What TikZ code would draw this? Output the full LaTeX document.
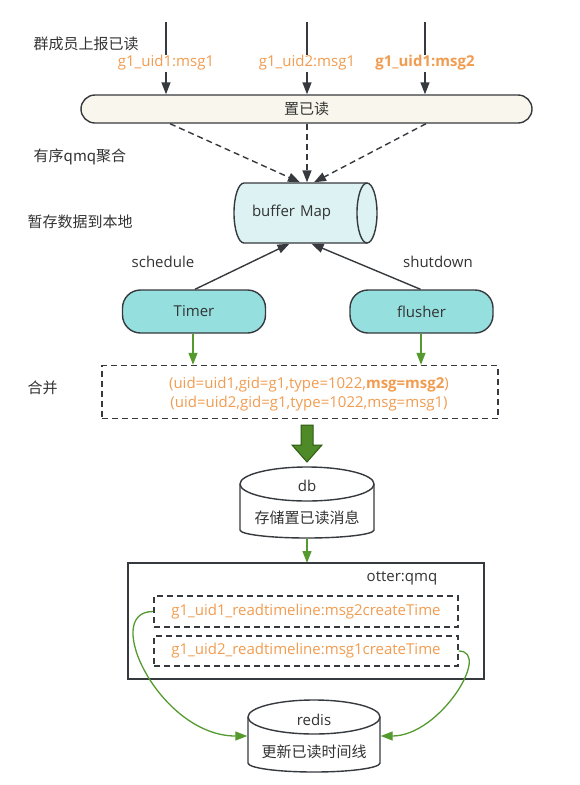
\documentclass[tikz,border=0pt]{standalone}
\usepackage{fontspec}
\setmainfont{Open Sans}
\newfontfamily\cjk{Noto Sans CJK SC}
\usetikzlibrary{arrows.meta}
\definecolor{linec}{HTML}{36393D}
\definecolor{txtc}{HTML}{333333}
\definecolor{barc}{HTML}{F9F7ED}
\definecolor{bufc}{HTML}{DDF3F3}
\definecolor{timerc}{HTML}{95DFDF}
\definecolor{orangec}{HTML}{F19C50}
\definecolor{greenc}{HTML}{559A2E}
\definecolor{bigc}{HTML}{4E8A27}
\definecolor{bigedge}{HTML}{2E5A12}
\tikzset{
  every node/.style={font=\fontsize{15pt}{18pt}\selectfont, text=txtc, inner sep=2pt},
  bar/.style={draw=linec, fill=barc, rounded corners=14pt, minimum width=451pt, minimum height=28pt},
  pill/.style={draw=linec, fill=timerc, rounded corners=18pt, minimum width=143pt, minimum height=43pt},
  dbox/.style={draw=linec, dash pattern=on 6pt off 4pt, line width=1.5pt},
  lbl/.style={fill=white, text=orangec, inner sep=1pt},
  garrow/.style={draw=greenc, line width=1.3pt, -{Triangle[length=12pt,width=9pt]}},
  cyl/.style={font=\fontsize{15pt}{32pt}\selectfont, align=center, inner sep=0pt},
}
\begin{document}
\begin{tikzpicture}[x=1pt,y=1pt,line width=1.4pt,>={Triangle[length=12pt,width=9pt]}]
\useasboundingbox (0,0) rectangle (579,-785);
% left captions
\node[anchor=west] (t1) at (31,-44) {\cjk 群成员上报已读};
\node[anchor=west] (t2) at (31,-157) {\cjk 有序qmq聚合};
\node[anchor=west] (t3) at (25,-222) {\cjk 暂存数据到本地};
\node[anchor=west] (t4) at (25,-388) {\cjk 合并};
% report read
\node[bar] (mark) at (306.5,-109) {\cjk 置已读};
\foreach \x/\n in {166/1,307/2,425/3}{\coordinate (in\n) at (\x,-22);}
\foreach \n in {1,2,3}{\draw[->,draw=linec] (in\n) -- (in\n |- mark.north);}
\node[lbl] (g1) at (166,-63) {g1\_uid1:msg1};
\node[lbl] (g2) at (307,-63) {g1\_uid2:msg1};
\node[lbl] (g3) at (425,-63) {\bfseries g1\_uid1:msg2};
% buffer map
\draw[draw=linec,fill=bufc] (244,-183) -- (367,-183) arc[start angle=90,end angle=-90,x radius=10,y radius=30]
  -- (244,-243) arc[start angle=270,end angle=90,x radius=10,y radius=30] -- cycle;
\draw[draw=linec] (367,-183) arc[start angle=90,end angle=270,x radius=10,y radius=30];
\node[minimum height=60pt, text width=107pt, inner xsep=18pt, inner ysep=0pt, align=left] (buf) at (305.5,-213) {buffer Map};
\draw[->,draw=linec,dash pattern=on 6pt off 4pt] ([xshift=-136.5pt]mark.south) -- ([xshift=-5.5pt]buf.north);
\draw[->,draw=linec,dash pattern=on 6pt off 4pt] ([xshift=0.5pt]mark.south) -- ([xshift=1.5pt]buf.north);
\draw[->,draw=linec,dash pattern=on 6pt off 4pt] ([xshift=119.5pt]mark.south) -- ([xshift=8.5pt]buf.north);
% timer and flusher
\node[pill] (timer) at (194,-311.5) {Timer};
\node[pill] (flusher) at (421.5,-311.5) {flusher};
\draw[->,draw=linec] ([xshift=1pt]timer.north) -- ([xshift=-16pt]buf.south);
\draw[->,draw=linec] ([xshift=-1pt]flusher.north) -- ([xshift=6pt]buf.south);
\node (sched) at (163,-262) {schedule};
\node (shut) at (438,-262) {shutdown};
% merge
\node[dbox, minimum width=396pt, minimum height=53pt] (merge) at (300,-392) {};
\node[text=orangec, align=center, font=\fontsize{15pt}{19pt}\selectfont] (mergetxt) at (309,-394) {(uid=uid1,gid=g1,type=1022,\textbf{msg=msg2})\\(uid=uid2,gid=g1,type=1022,msg=msg1)};
\draw[garrow] ([xshift=-1pt]timer.south) -- ([xshift=-1pt]timer.south |- merge.north);
\draw[garrow] ([xshift=-0.5pt]flusher.south) -- ([xshift=-0.5pt]flusher.south |- merge.north);
\filldraw[fill=bigc, draw=bigedge, line width=1pt] (301,-425) -- (313,-425) -- (313,-445) -- (322,-445) -- (307,-462) -- (292,-445) -- (301,-445) -- cycle;
% db
\draw[draw=linec,fill=white] (240,-484) arc[start angle=180,end angle=0,x radius=67,y radius=17]
  -- (374,-530) arc[start angle=0,end angle=-180,x radius=67,y radius=8] -- cycle;
\draw[draw=linec] (240,-484) arc[start angle=180,end angle=360,x radius=67,y radius=17];
\node[cyl, minimum width=134pt, minimum height=71pt] (db) at (307,-502.5) {db\\\cjk 存储置已读消息};
\draw[garrow] (db.south) -- (db.south |- 0,-563);
% otter:qmq
\node[draw=linec, minimum width=356pt, minimum height=116pt] (otter) at (306,-621) {};
\node (otterlbl) at (402,-578) {otter:qmq};
\node[dbox, text=orangec, minimum width=304pt, minimum height=31pt] (k1) at (306,-611.5) {g1\_uid1\_readtimeline:msg2createTime};
\node[dbox, text=orangec, minimum width=304pt, minimum height=30pt] (k2) at (306,-651) {g1\_uid2\_readtimeline:msg1createTime};
% redis
\draw[draw=linec,fill=white] (248,-717) arc[start angle=180,end angle=0,x radius=66,y radius=17]
  -- (380,-763) arc[start angle=0,end angle=-180,x radius=66,y radius=9] -- cycle;
\draw[draw=linec] (248,-717) arc[start angle=180,end angle=360,x radius=66,y radius=17];
\node[cyl, minimum width=132pt, minimum height=72pt] (redis) at (314,-736) {redis\\\cjk 更新已读时间线};
\draw[garrow] (k1.west) .. controls (100,-611) and (160,-736) .. (redis.west);
\draw[garrow] (k2.east) .. controls (492,-651) and (440,-736) .. (redis.east);
\end{tikzpicture}
\end{document}
